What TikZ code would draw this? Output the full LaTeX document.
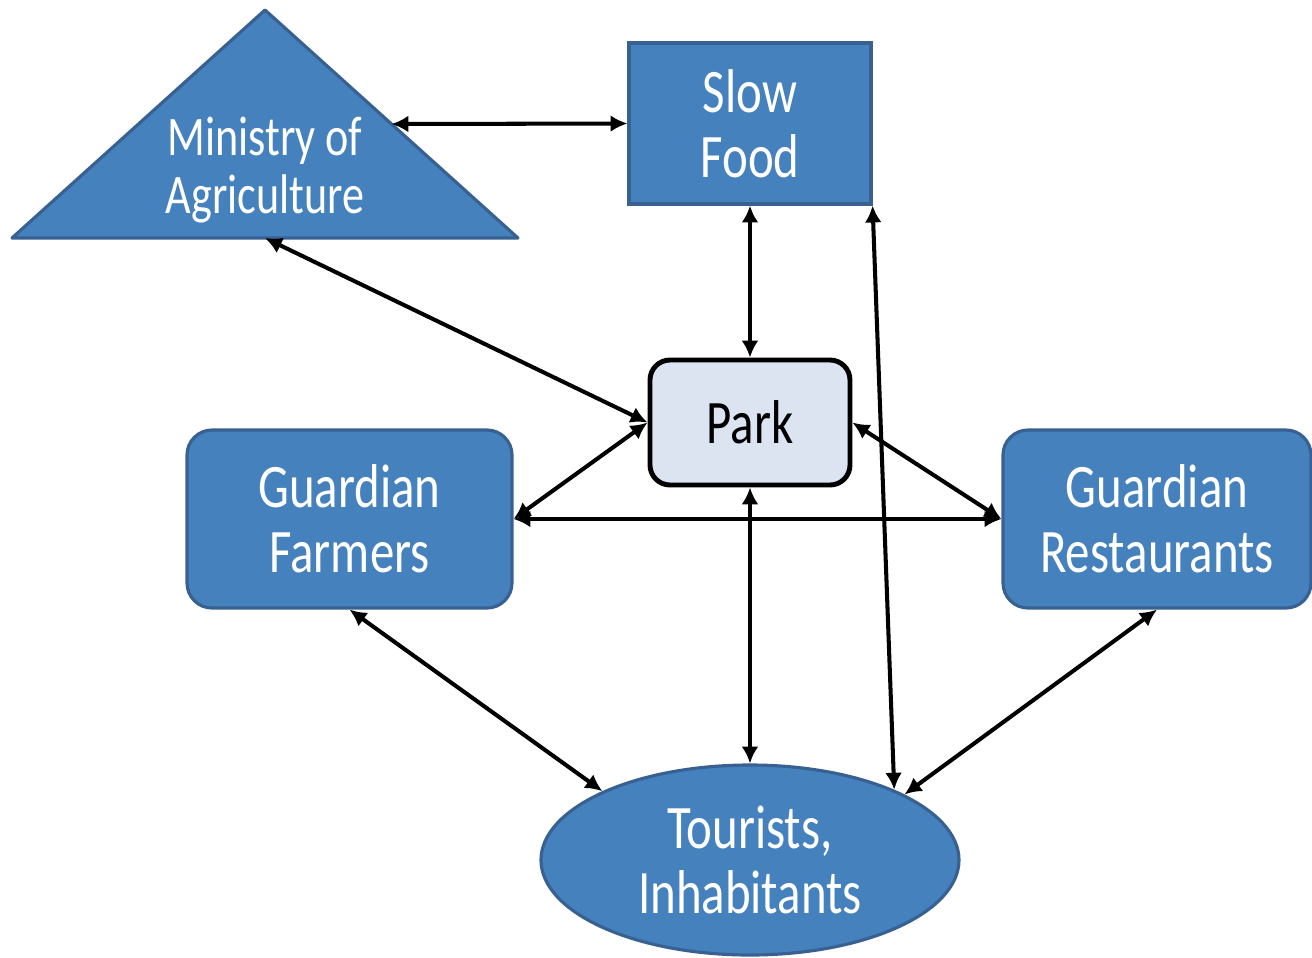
\documentclass[tikz,border=0pt]{standalone}
\usepackage{fontspec}
\setmainfont{Carlito}[FakeStretch=0.79]
\usetikzlibrary{calc, arrows.meta, shapes.geometric}
\definecolor{boxblue}{RGB}{69,129,189}
\definecolor{boxedge}{RGB}{56,97,146}
\definecolor{parkfill}{RGB}{220,228,241}

\begin{document}
\begin{tikzpicture}[>={Latex[length=4.8pt,width=4.8pt]},
  bluebox/.style={fill=boxblue,draw=boxedge,line width=0.9pt,text=white,align=center,inner sep=0pt,font=\fontsize{17.6}{18.6}\selectfont},
  link/.style={<->,line width=1.15pt}]
\fill[white] (0,0) rectangle (13.12,-9.57);
\useasboundingbox (0,0) rectangle (13.12,-9.57);

\coordinate (apex) at (2.65,-0.10);
\coordinate (baseL) at (0.12,-2.38);
\coordinate (baseR) at (5.18,-2.38);
\filldraw[fill=boxblue,draw=boxedge,line width=0.9pt,line join=round] (apex) -- (baseR) -- (baseL) -- cycle;
\node[align=center,text=white,font=\fontsize{15.9}{16.5}\selectfont] (ministry) at (2.65,-1.70) {Ministry of\\Agriculture};
\coordinate (minR) at ($(apex)!0.5!(baseR)$);
\coordinate (minB) at ($(baseL)!0.5!(baseR)$);

\node[bluebox,minimum width=2.42cm,minimum height=1.61cm] (slow) at (7.5,-1.235) {Slow\\Food};
\node[bluebox,fill=parkfill,draw=black,line width=1.4pt,text=black,rounded corners=0.2cm,minimum width=2cm,minimum height=1.25cm] (park) at (7.5,-4.225) {Park};
\node[bluebox,rounded corners=0.25cm,minimum width=3.25cm,minimum height=1.78cm] (farmers) at (3.495,-5.19) {Guardian\\Farmers};
\node[bluebox,rounded corners=0.25cm,minimum width=3.08cm,minimum height=1.78cm] (rest) at (11.57,-5.19) {Guardian\\Restaurants};
\node[bluebox,ellipse,minimum width=4.18cm,minimum height=1.9cm] (tourists) at (7.5,-8.6) {Tourists,\\Inhabitants};

\draw[link] (minR) -- (slow.west);
\draw[link] (slow.south) -- (park.north);
\draw[link] (slow.south east) -- (tourists.26);
\draw[link] (minB) -- (park.west);
\draw[link] (park.west) -- (farmers.east);
\draw[link] (farmers.east) -- (rest.west);
\draw[link] (park.east) -- (rest.west);
\draw[link] (park.south) -- (tourists.north);
\draw[link] (farmers.south) -- (tourists.155);
\draw[link] (rest.south) -- (tourists.23);
\end{tikzpicture}
\end{document}
